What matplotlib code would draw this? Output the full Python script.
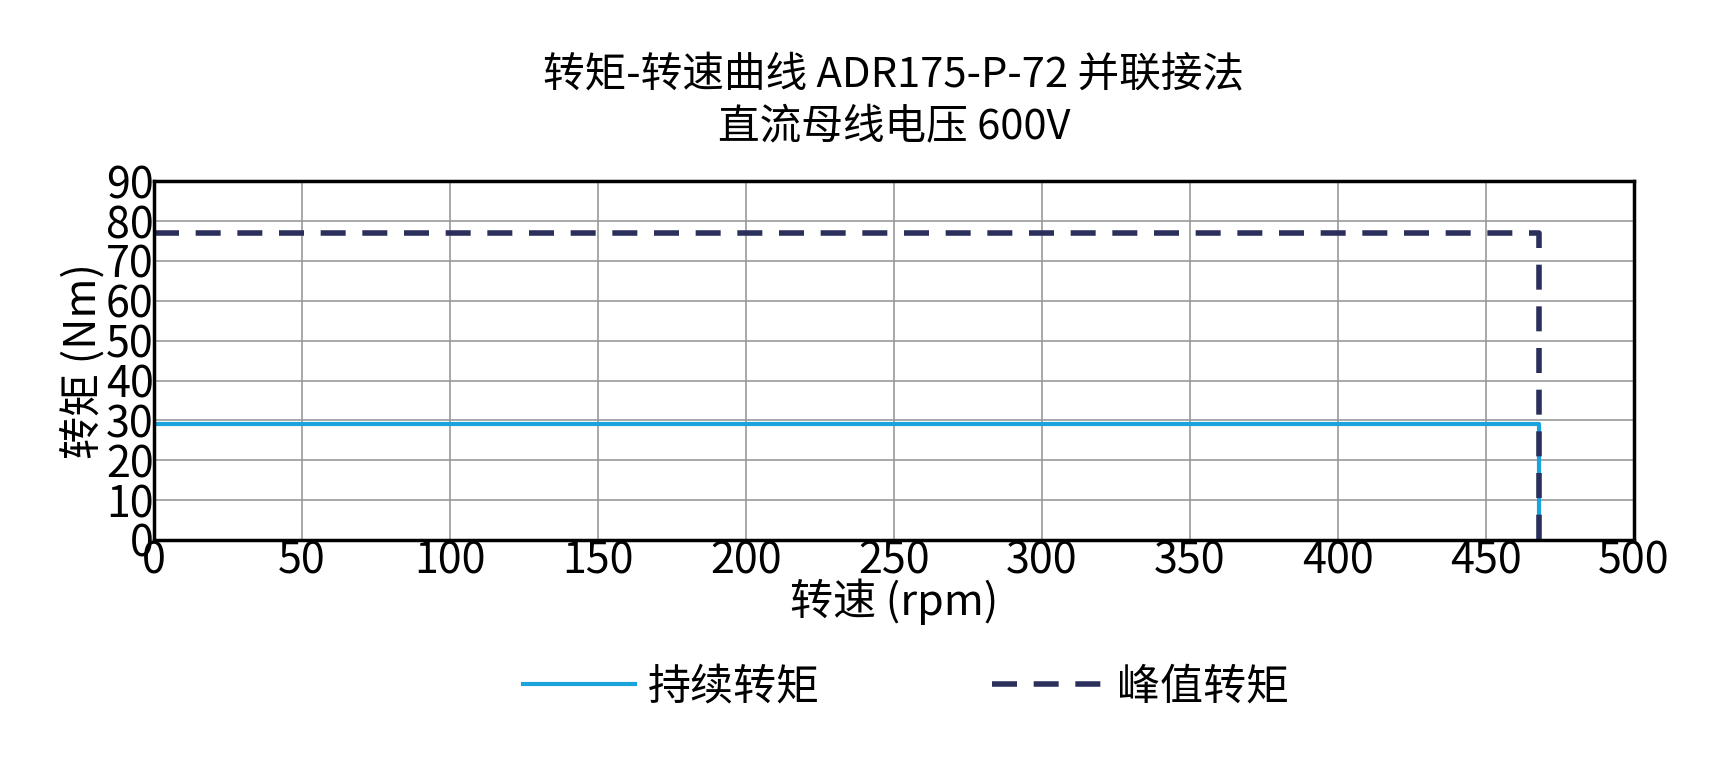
import matplotlib
matplotlib.use("Agg")
import matplotlib.pyplot as plt

plt.rcParams['font.family'] = ['Noto Sans CJK SC', 'DejaVu Sans']

cont_speed = [0, 468, 468]
cont_torque = [29, 29, 0]
peak_speed = [0, 468, 468]
peak_torque = [77, 77, 0]
xticks = [0, 50, 100, 150, 200, 250, 300, 350, 400, 450, 500]
yticks = [0, 10, 20, 30, 40, 50, 60, 70, 80, 90]

fig = plt.figure(figsize=(17.09, 7.68), dpi=100)
ax = fig.add_axes([0.09, 0.297, 0.866, 0.467])
ax.plot(cont_speed, cont_torque, color='#1ba3dc', lw=3, label='持续转矩')
ax.plot(peak_speed, peak_torque, color='#2b2f5c', lw=4, ls=(0, (4.5, 3)), label='峰值转矩')
ax.set_xlim(0, 500)
ax.set_ylim(0, 90)
ax.set_xticks(xticks)
ax.set_yticks(yticks)
ax.grid(True, color='#999999', lw=1.2)
for s in ax.spines.values():
    s.set_linewidth(2.5)
ax.tick_params(labelsize=31, length=0, pad=0)
ax.set_xlabel('转速 (rpm)', fontsize=31, labelpad=-4)
ax.set_ylabel('转矩 (Nm)', fontsize=31, labelpad=0)
ax.set_title('转矩-转速曲线 ADR175-P-72 并联接法\n直流母线电压 600V', fontsize=30, pad=30, linespacing=1.35)
fig.legend(loc='center', bbox_to_anchor=(0.53, 0.105), ncol=2, frameon=False,
           fontsize=31, handlelength=2.6, handletextpad=0.3, columnspacing=4)
fig.savefig('out.png', dpi=100)
